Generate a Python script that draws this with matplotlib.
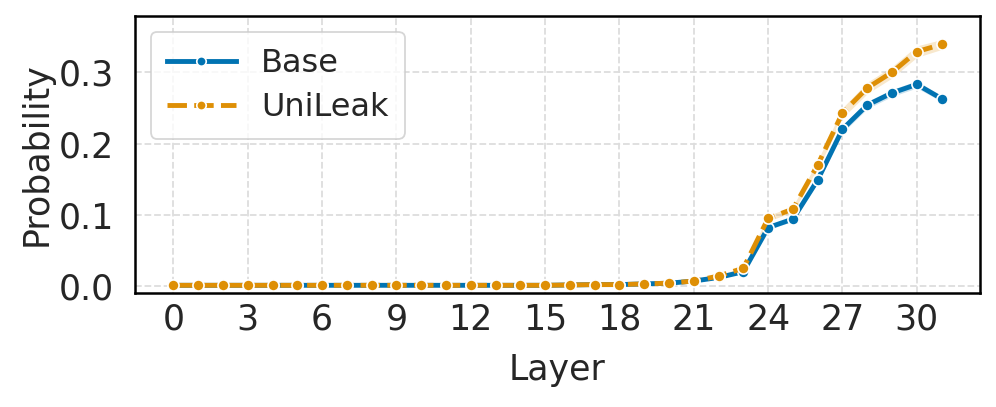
import matplotlib
matplotlib.use("Agg")
import matplotlib.pyplot as plt
import numpy as np

layers = list(range(32))
base = [0.001, 0.001, 0.001, 0.001, 0.001, 0.001, 0.001, 0.001, 0.001, 0.001,
        0.001, 0.001, 0.001, 0.001, 0.001, 0.001, 0.0015, 0.002, 0.002, 0.003,
        0.004, 0.007, 0.012, 0.020, 0.082, 0.094, 0.149, 0.220, 0.254, 0.271,
        0.283, 0.263]
unileak = [0.001, 0.001, 0.001, 0.001, 0.001, 0.001, 0.001, 0.001, 0.001, 0.001,
           0.001, 0.001, 0.001, 0.001, 0.001, 0.001, 0.0015, 0.002, 0.002, 0.003,
           0.004, 0.007, 0.014, 0.025, 0.095, 0.108, 0.170, 0.243, 0.278, 0.300,
           0.329, 0.339]
base_err = [0.0]*21 + [0.001, 0.001, 0.002, 0.003, 0.003, 0.004, 0.005, 0.005, 0.005, 0.005, 0.004]
unileak_err = [0.0]*21 + [0.001, 0.001, 0.002, 0.004, 0.004, 0.006, 0.007, 0.008, 0.008, 0.008, 0.007]
xticks = list(range(0, 31, 3))
yticks = [0.0, 0.1, 0.2, 0.3]

blue = "#0173b2"
orange = "#de8f05"

plt.rcParams['font.family'] = ['DejaVu Sans']
fig = plt.figure(figsize=(9.96, 4.07), dpi=100)
ax = fig.add_axes([135/996, 1-293/407, (980-135)/996, (293-16)/407])

x = np.array(layers)
b = np.array(base); be = np.array(base_err)
u = np.array(unileak); ue = np.array(unileak_err)

ax.fill_between(x, b - be, b + be, color=blue, alpha=0.2, lw=0)
ax.fill_between(x, u - ue, u + ue, color=orange, alpha=0.2, lw=0)
ax.plot(x, b, color=blue, lw=3.5, marker='o', ms=8, mec='white', mew=1.2, label='Base')
ax.plot(x, u, color=orange, lw=3.5, marker='o', ms=8, mec='white', mew=1.2,
        dashes=(4, 1.5), label='UniLeak')

ax.set_xlim(-1.55, 32.55)
ax.set_ylim(-0.0098, 0.379)
ax.set_xticks(xticks)
ax.set_yticks(yticks)
ax.set_yticklabels([f"{t:.1f}" for t in yticks])
ax.tick_params(axis='y', labelsize=25, colors='#262626', length=0, pad=15)
ax.tick_params(axis='x', labelsize=25, colors='#262626', length=0, pad=7)
ax.set_xlabel("Layer", fontsize=25, color='#262626', labelpad=12)
ax.set_ylabel("Probability", fontsize=25, color='#262626', labelpad=4)
ax.grid(True, ls='--', color='#dddddd', lw=1.3)
ax.set_axisbelow(True)
for s in ax.spines.values():
    s.set_color('black')
    s.set_linewidth(1.8)

leg = ax.legend(loc='upper left', fontsize=23, frameon=True, fancybox=True,
                handlelength=2.15, borderpad=0.5, labelspacing=0.4, handletextpad=0.8,
                markerscale=0.85)
leg.get_frame().set_edgecolor('#cccccc')
leg.get_frame().set_linewidth(1.3)
for t in leg.get_texts():
    t.set_color('#262626')

fig.savefig("out.png", dpi=100)
